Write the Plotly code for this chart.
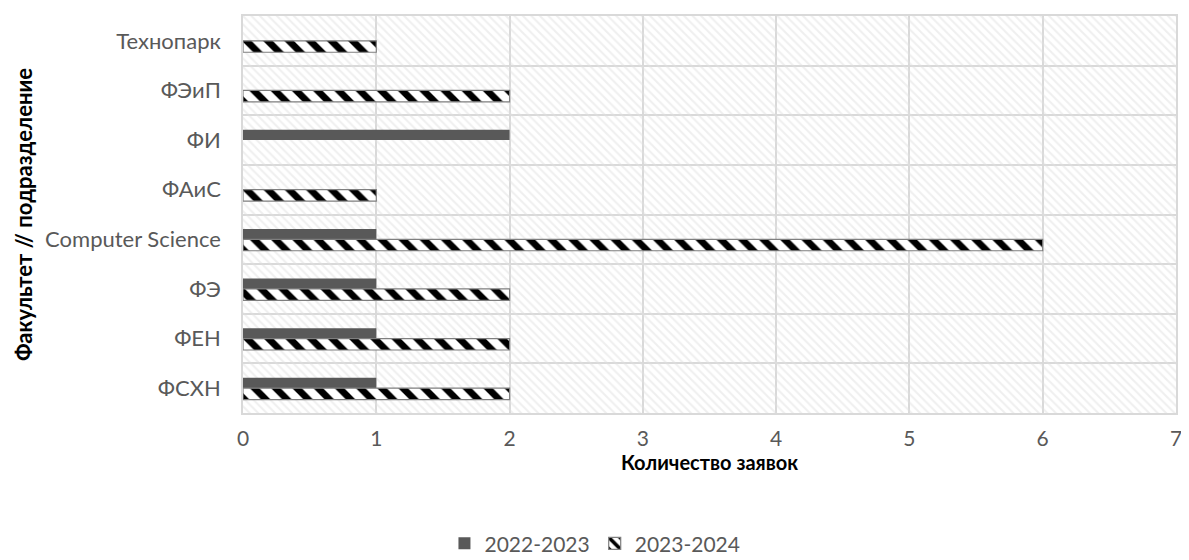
import plotly.graph_objects as go

categories = ["ФСХН", "ФЕН", "ФЭ", "Computer Science", "ФАиС", "ФИ", "ФЭиП", "Технопарк"]
series_2022 = [1, 1, 1, 1, None, 2, None, None]
series_2023 = [2, 2, 2, 6, 1, None, 2, 1]
x_ticks = [0, 1, 2, 3, 4, 5, 6, 7]
x_max = 7

FONT = "Lato"
GRAY_TXT = "#595959"
GRID = "#d9d9d9"

fig = go.Figure()

# background hatch across the plot area (one band per category)
fig.add_trace(go.Bar(
    y=categories, x=[x_max] * len(categories), orientation="h", width=1,
    opacity=1,
    marker=dict(color="rgba(0,0,0,0)", line=dict(width=0),
                pattern=dict(shape="\\", fgcolor="#e0e0e0", bgcolor="rgba(0,0,0,0)",
                             size=6, solidity=0.35)),
    hoverinfo="skip", showlegend=False,
))

fig.add_trace(go.Bar(
    name="2022-2023", y=categories, x=series_2022, orientation="h",
    width=0.21, offset=0, opacity=1,
    marker=dict(color="#595959", line=dict(width=0)),
))

fig.add_trace(go.Bar(
    name="2023-2024", y=categories, x=series_2023, orientation="h",
    width=0.23, offset=-0.23, opacity=1,
    marker=dict(color="white", line=dict(color="#7f7f7f", width=1.2),
                pattern=dict(shape="\\", fgcolor="black", bgcolor="white",
                             fgopacity=1, fillmode="replace",
                             size=15, solidity=0.45)),
))

fig.update_layout(
    width=1181, height=554,
    margin=dict(l=235, r=13, t=8, b=149),
    barmode="overlay",
    plot_bgcolor="white", paper_bgcolor="white",
    font=dict(family=FONT, size=21, color=GRAY_TXT),
    xaxis=dict(
        range=[0, x_max], tickvals=x_ticks, ticktext=[str(v) for v in x_ticks],
        showgrid=True, gridcolor=GRID, gridwidth=1.5, zeroline=False,
        showline=True, linecolor=GRID, linewidth=1.5, mirror=True,
        ticks="", ticklabelstandoff=6, automargin=False,
        ticklabeloverflow="allow",
        tickfont=dict(size=21, color=GRAY_TXT),
        title=dict(text="<b>Количество заявок</b>", standoff=2,
                   font=dict(size=20, color="black")),
    ),
    yaxis=dict(
        categoryorder="array", categoryarray=categories,
        tickson="boundaries", showgrid=True, gridcolor=GRID, gridwidth=1.5,
        showline=True, linecolor=GRID, linewidth=1.5, mirror=True,
        ticks="", ticklabelstandoff=16, automargin=False,
        tickfont=dict(size=22, color=GRAY_TXT),
        title=dict(text="<b>Факультет // подразделение</b>", standoff=6,
                   font=dict(size=22, color="black")),
    ),
    legend=dict(orientation="h", xref="container", x=0.497, xanchor="center",
                yref="container", y=0.033, yanchor="middle",
                font=dict(size=21, color=GRAY_TXT), traceorder="normal",
                itemwidth=30),
)

fig.write_html("out.html")
